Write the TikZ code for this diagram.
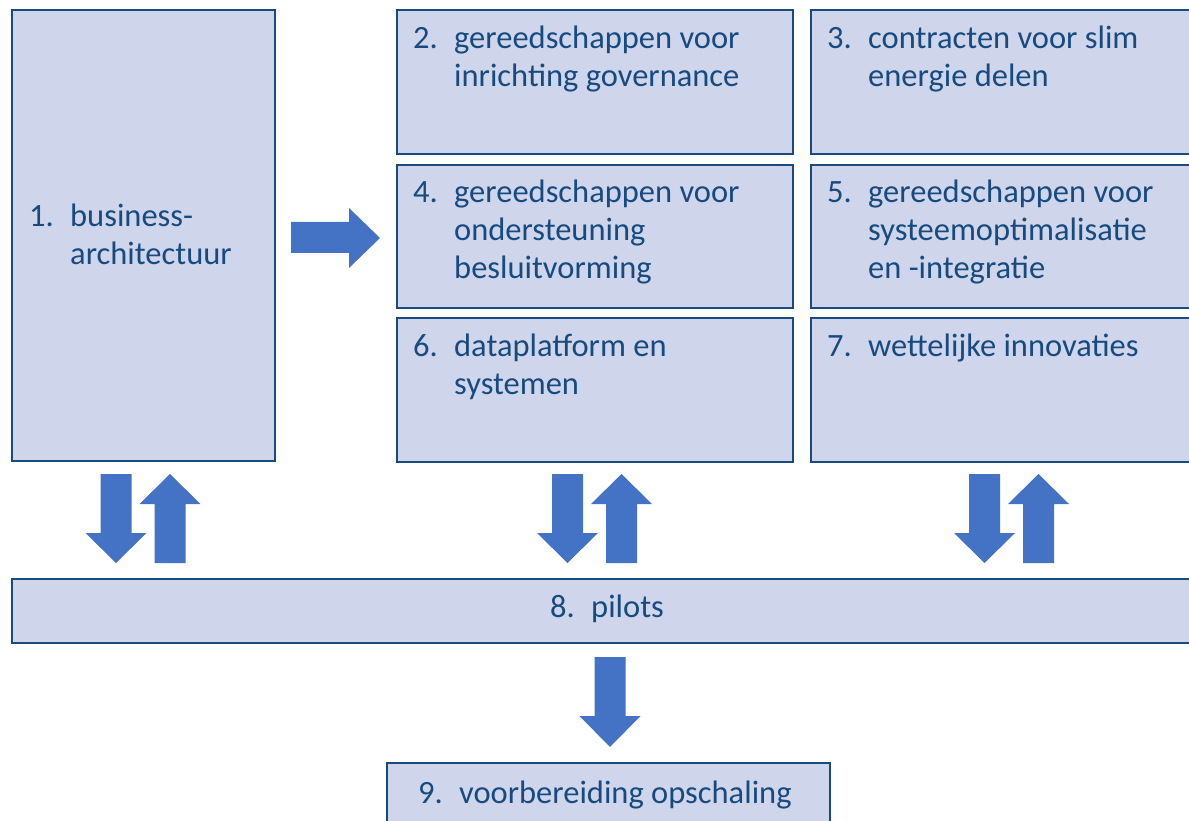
\documentclass[tikz,border=0pt]{standalone}
\usepackage{fontspec}
\setmainfont{Carlito}
\usepackage{array}
\definecolor{boxfill}{HTML}{CFD5EA}
\definecolor{boxline}{HTML}{1A4A7E}
\definecolor{txt}{HTML}{174B80}
\definecolor{arr}{HTML}{4472C4}
\tikzset{
  box/.style={draw=boxline, fill=boxfill, line width=2.2pt, inner sep=0pt, anchor=north west},
  label/.style={inner sep=0pt, anchor=base west, text=txt, font=\fontsize{32.5}{38}\selectfont},
  blockarrow/.style={fill=arr, draw=none}
}
\newcommand{\itm}[2]{\begin{tabular}[t]{@{}p{41pt}@{}l@{}}#1&#2\end{tabular}}
% vertical block arrow: center x, shaft end y, head base y, tip y
\newcommand{\varr}[4]{\fill[arr] (#1-15.5,#2) -- (#1+15.5,#2) -- (#1+15.5,#3) -- (#1+30.5,#3) -- (#1,#4) -- (#1-30.5,#3) -- (#1-15.5,#3) -- cycle;}
\begin{document}
\begin{tikzpicture}[x=1pt,y=-1pt]
\clip (0,0) rectangle (1189,821);
\fill[white] (0,0) rectangle (1189,821);
% boxes
\node[box, minimum width=263pt, minimum height=451pt] (b1) at (11,9) {};
\node[box, minimum width=396pt, minimum height=144pt] (b2) at (396,9) {};
\node[box, minimum width=400pt, minimum height=144pt] (b3) at (810,9) {};
\node[box, minimum width=396pt, minimum height=143pt] (b4) at (396,164) {};
\node[box, minimum width=400pt, minimum height=143pt] (b5) at (810,164) {};
\node[box, minimum width=396pt, minimum height=144pt] (b6) at (396,317) {};
\node[box, minimum width=400pt, minimum height=144pt] (b7) at (810,317) {};
\node[box, minimum width=1195pt, minimum height=64pt] (b8) at (11,578) {};
\node[box, minimum width=443pt, minimum height=80pt] (b9) at (386,762) {};
% texts
\node[label] (t1) at (29,227) {\itm{1.}{business-\\&architectuur}};
\node[label] (t2) at (413,49) {\itm{2.}{gereedschappen voor\\&inrichting governance}};
\node[label] (t3) at (827,49) {\itm{3.}{contracten voor slim\\&energie delen}};
\node[label] (t4) at (413,203) {\itm{4.}{gereedschappen voor\\&ondersteuning\\&besluitvorming}};
\node[label] (t5) at (827,203) {\itm{5.}{gereedschappen voor\\&systeemoptimalisatie\\&en -integratie}};
\node[label] (t6) at (413,356) {\itm{6.}{dataplatform en\\&systemen}};
\node[label] (t7) at (827,356) {\itm{7.}{wettelijke innovaties}};
\node[label] (t8) at (550,617) {\itm{8.}{pilots}};
\node[label] (t9) at (418,803) {\itm{9.}{voorbereiding opschaling}};
% block arrows
\fill[arr] (291,222) -- (349,222) -- (349,208) -- (380,238) -- (349,268) -- (349,253) -- (291,253) -- cycle;
\varr{116}{474}{533}{563}
\varr{170}{563}{504}{474}
\varr{567.5}{474}{533}{563}
\varr{621.5}{563}{504}{474}
\varr{984.5}{474}{533}{563}
\varr{1038.5}{563}{504}{474}
\varr{610}{657}{716}{747}
\end{tikzpicture}
\end{document}
